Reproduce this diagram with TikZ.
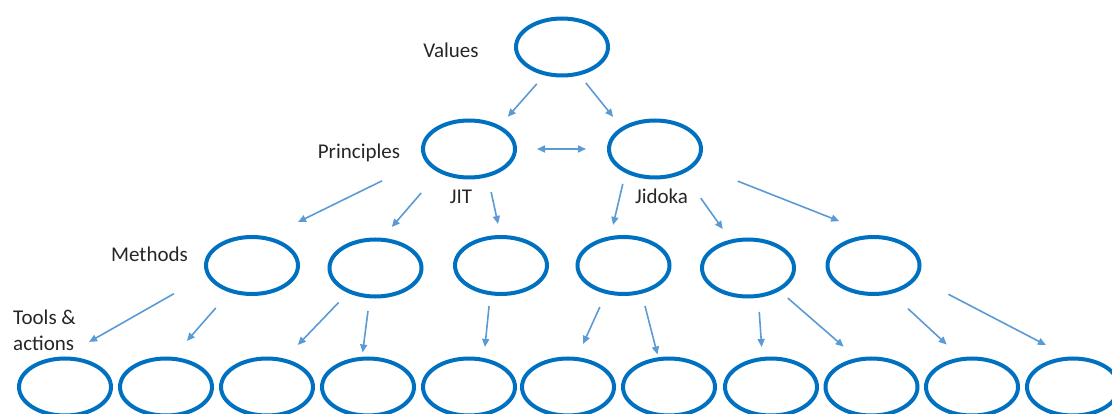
\documentclass[tikz,border=0pt]{standalone}
\usepackage{fontspec}
\setmainfont{Carlito}
\usetikzlibrary{shapes.geometric,arrows.meta}
\definecolor{ringblue}{HTML}{0070C0}
\definecolor{arrowblue}{HTML}{5B9BD5}
\tikzset{stage/.style={ellipse, draw=ringblue, line width=4pt,
    minimum width=92pt, minimum height=57pt, inner sep=0pt},
    link/.style={-{Triangle[length=8pt,width=7pt]}, draw=arrowblue, line width=1.6pt},
    tag/.style={font=\fontsize{21}{25}\selectfont, text=black!85, inner sep=0pt},
    }

\begin{document}
\begin{tikzpicture}[x=1pt,y=-1pt]
\useasboundingbox (0,0) rectangle (1112,414);
% levels
\node[stage] (v) at (562,47) {};
\node[stage] (p1) at (469,149) {};
\node[stage] (p2) at (655,149) {};
\node[stage] (m1) at (252,265.5) {};
\node[stage] (m2) at (375.5,268) {};
\node[stage] (m3) at (501,265.5) {};
\node[stage] (m4) at (623.5,265.5) {};
\node[stage] (m5) at (748,268) {};
\node[stage] (m6) at (873.5,265.5) {};
\foreach \x [count=\i] in {65,166,267,368,469,568,669,771,871.5,972,1073}
  \node[stage] (t\i) at (\x,387) {};
% labels
\node[tag, anchor=base] (lvalues) at (451,58) {Values};
\node[tag, anchor=base] (lprinc) at (359,159) {Principles};
\node[tag, anchor=base] (ljit) at (461,204) {JIT};
\node[tag, anchor=base] (ljidoka) at (661.5,204) {Jidoka};
\node[tag, anchor=base] (lmethods) at (149.5,262) {Methods};
\node[tag, anchor=base west, align=left] (ltools) at (13,350) {Tools \&\\actions};
% values -> principles
\draw[link, shorten <=11.4pt, shorten >=11.8pt] (v.238) -- (p1.37);
\draw[link, shorten <=9.8pt, shorten >=13.2pt] (v.302) -- (p2.147);
\draw[link, {Triangle[length=8pt,width=7pt]}-{Triangle[length=8pt,width=7pt]},
  shorten <=20pt, shorten >=21pt] (p1.east) -- (p2.west);
% principles -> methods
\draw[link, shorten <=47.2pt, shorten >=33.5pt] (p1.194) -- (m1.61);
\draw[link, shorten <=26.9pt, shorten >=14.3pt] (p1.218) -- (m2.77);
\draw[link, shorten <=15.3pt, shorten >=11.3pt] (p1.304) -- (m3.91);
\draw[link, shorten <=11.2pt, shorten >=11.5pt] (p2.219) -- (m4.114);
\draw[link, shorten <=30.1pt, shorten >=13pt] (p2.319) -- (m5.122);
\draw[link, shorten <=44.8pt, shorten >=38pt] (p2.339) -- (m6.88);
% methods -> tools
\draw[link, shorten <=37.5pt, shorten >=29.5pt] (m1.192) -- (t1.93);
\draw[link, shorten <=20.7pt, shorten >=21.1pt] (m1.230) -- (t2.77);
\draw[link, shorten <=13.1pt, shorten >=19pt] (m2.222) -- (t3.58);
\draw[link, shorten <=12.8pt, shorten >=4.3pt] (m2.259) -- (t4.101);
\draw[link, shorten <=10.9pt, shorten >=11.1pt] (m3.250) -- (t5.63);
\draw[link, shorten <=14.4pt, shorten >=14.4pt] (m4.238) -- (t6.73);
\draw[link, shorten <=12.7pt, shorten >=2.9pt] (m4.303) -- (t7.110);
\draw[link, shorten <=14.2pt, shorten >=10pt] (m5.289) -- (t8.106);
\draw[link, shorten <=10.9pt, shorten >=17.3pt] (m5.324) -- (t9.117);
\draw[link, shorten <=22pt, shorten >=18.9pt] (m6.303) -- (t10.111);
\draw[link, shorten <=35.1pt, shorten >=25.1pt] (m6.344) -- (t11.99);
\end{tikzpicture}
\end{document}
